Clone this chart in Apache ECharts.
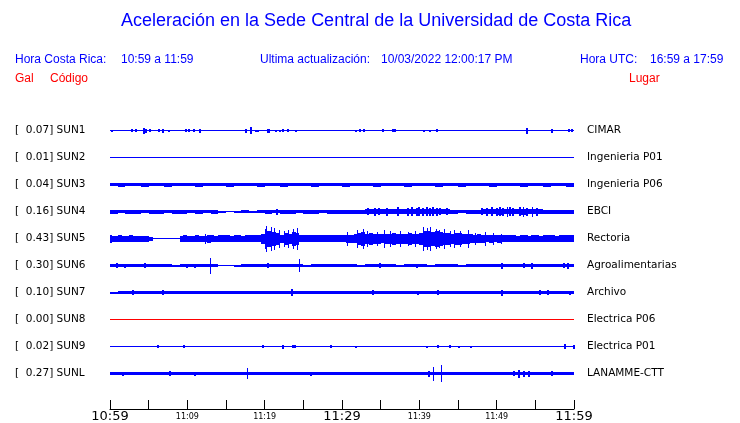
<!DOCTYPE html>
<html><head><meta charset="utf-8">
<script src="https://cdn.jsdelivr.net/npm/echarts@6/dist/echarts.min.js"></script>
<style>html,body{margin:0;padding:0;background:#fff}#c{width:740px;height:423px}</style>
</head><body><div id="c"></div>
<script>
// ---------- DATA ----------
const titleText = 'Aceleración en la Sede Central de la Universidad de Costa Rica';
const crLabel = 'Hora Costa Rica:', crTime = '10:59 a 11:59';
const updLabel = 'Ultima actualización:', updTime = '10/03/2022 12:00:17 PM';
const utcLabel = 'Hora UTC:', utcTime = '16:59 a 17:59';
const colHeads = ['Gal', 'Código', 'Lugar'];

const codes  = ['SUN1','SUN2','SUN3','SUN4','SUN5','SUN6','SUN7','SUN8','SUN9','SUNL'];
const gal    = ['0.07','0.01','0.04','0.16','0.43','0.30','0.10','0.00','0.02','0.27'];
const places = ['CIMAR','Ingenieria P01','Ingenieria P06','EBCI','Rectoria','Agroalimentarias','Archivo','Electrica P06','Electrica P01','LANAMME-CTT'];
const tickLabels = ['10:59','11:09','11:19','11:29','11:39','11:49','11:59']; // every 10 min
const spanMinutes = 60;

// envelope half-amplitudes (trace units, 27 units = one row), one value per time bin
const SUN1 = [0.5,0.5,0.5,0.5,0.5,0.5,0.5,0.5,0.5,0.5, 0.5,0.5,0.5,0.5,0.5,0.5,0.5,0.5,0.5,0.5, 0.5,0.5,0.5,0.5,0.5,0.5,0.5,0.5,0.5,0.5,
              0.5,0.5,0.5,0.5,0.5,0.5,0.5,0.5,0.5,0.5, 0.5,0.5,0.5,0.5,0.5,0.5,0.5,0.5,0.5,0.5, 0.5,0.5,0.5,0.5,0.5,0.5,0.5,0.5,0.5,0.5];
const SUN2 = [0.5,0.5,0.5,0.5,0.5,0.5,0.5,0.5,0.5,0.5, 0.5,0.5,0.5,0.5,0.5,0.5,0.5,0.5,0.5,0.5, 0.5,0.5,0.5,0.5,0.5,0.5,0.5,0.5,0.5,0.5,
              0.5,0.5,0.5,0.5,0.5,0.5,0.5,0.5,0.5,0.5, 0.5,0.5,0.5,0.5,0.5,0.5,0.5,0.5,0.5,0.5, 0.5,0.5,0.5,0.5,0.5,0.5,0.5,0.5,0.5,0.5];
const SUN3 = [1.5,2,1.5,1.5,2,1.5,1.5,2,1.5,1.5, 1.5,2,1.5,1.5,1.5,2,1.5,1.5,1.5,2, 1.5,1.5,2,1.5,1.5,1.5,2,1.5,1.5,1.5,
              2,1.5,1.5,1.5,2,1.5,1.5,1.5,2,1.5, 1.5,1.5,2,1.5,1.5,2,1.5,1.5,1.5,2, 1.5,1.5,1.5,2,1.5,1.5,2,1.5,1.5,2];
const SUN4 = [2,1.5,2,2,1.5,2,2,1.5,2,2, 1.5,2,1.5,2,1,0.5,1,1.5,1,1.5, 2,1.5,2,2,1.5,2,2,1.5,2,2,
              2,2,2,2.5,2.5,2.5,2.5,2.5,2.5,2.5, 2.5,2.5,2.5,2.5,2,1.5,2,2, 2.5,2.5,3,2.5,2.5,3,2.5,2.5, 2,2,2,2];
const SUN5 = [3,3,3.5,3,3,3.5,3,3,3,3,
              2,0.5,0.5,0.5,0.5,0.5,0.5,0.5,
              3,3.5,3,3,3.5,3,3,4,3.5,3,3.5,3.5,3.5,3,3.5,3.5,3,3.5,3.5,3.5,3.5,
              5,8,8,7,6,4,6,5,7,6,
              3.5,3.5,3.5,3.5,3.5,3.5,3.5,3.5,3.5,3.5,3.5,3.5,4,4,4.5,
              6,7,5,6,
              5,5,4.5,5,5,6,5,5,5,6,5,5,6,
              8,8,7,8,7,
              6,6,5,6,6,5,5,4.5,
              4,4.5,4,3.5,4,3.5,4,3.5,3.5,
              3.5,3.5,3,3.5,3.5,3,3.5,3.5,3,3.5,3.5,3.5,3,3.5,3.5,3.5,3.5];
const SUN6 = [1.5,1.5,1.5,1.5,1.5,1.5,1.5,1.5,1,1.5, 1.5,1.5,1.5,1.5,0.5,0.5,1,1.5,1.5,1.5, 1.5,1.5,1.5,1.5,1.5,1,1.5,1.5,1.5,1.5,
              1.5,1.5,1,1.5,1.5,1.5,1.5,1,1.5,1.5, 1.5,1,1.5,1.5,1.5,1,1.5,1.5,1.5,1.5, 1.5,1.5,1.5,1.5,1.5,1.5,1.5,1.5,1.5,1.5];
const SUN7 = [1,1.5,1.5,1.5,1.5,1.5,1.5,1.5,1.5,1.5, 1.5,1.5,1.5,1.5,1.5,1.5,1.5,1.5,1.5,1.5, 1.5,1.5,1.5,1.5,1.5,1.5,1.5,1.5,1.5,1.5,
              1.5,1.5,1.5,1.5,1.5,1.5,1.5,1.5,1.5,1.5, 1.5,1.5,1.5,1.5,1.5,1.5,1.5,1.5,1.5,1.5, 1.5,1.5,1.5,1.5,1.5,1.5,1.5,1.5,1.5,1.5];
const SUN8 = [0.5,0.5,0.5,0.5,0.5,0.5,0.5,0.5,0.5,0.5, 0.5,0.5,0.5,0.5,0.5,0.5,0.5,0.5,0.5,0.5, 0.5,0.5,0.5,0.5,0.5,0.5,0.5,0.5,0.5,0.5,
              0.5,0.5,0.5,0.5,0.5,0.5,0.5,0.5,0.5,0.5, 0.5,0.5,0.5,0.5,0.5,0.5,0.5,0.5,0.5,0.5, 0.5,0.5,0.5,0.5,0.5,0.5,0.5,0.5,0.5,0.5];
const SUN9 = [0.5,0.5,0.5,0.5,0.5,0.5,0.5,0.5,0.5,0.5, 0.5,0.5,0.5,0.5,0.5,0.5,0.5,0.5,0.5,0.5, 0.5,0.5,0.5,0.5,0.5,0.5,0.5,0.5,0.5,0.5,
              0.5,0.5,0.5,0.5,0.5,0.5,0.5,0.5,0.5,0.5, 0.5,0.5,0.5,0.5,0.5,0.5,0.5,0.5,0.5,0.5, 0.5,0.5,0.5,0.5,0.5,0.5,0.5,0.5,0.5,0.5];
const SUNL = [1.5,1.5,1.5,1.5,1.5,1.5,1.5,1.5,1.5,1.5, 1.5,1.5,1.5,1.5,1.5,1.5,1.5,1.5,1.5,1.5, 1.5,1.5,1.5,1.5,1.5,1.5,1.5,1.5,1.5,1.5,
              1.5,1.5,1.5,1.5,1.5,1.5,1.5,1.5,1.5,1.5, 1.5,1.5,1.5,1.5,1.5,1.5,1.5,1.5,1.5,1.5, 1.5,1.5,1.5,1.5,1.5,1.5,1.5,1.5,1.5,1.5];

// isolated peaks: [minute, half-amplitude]
const SUN1_peaks = [[0.26,1],[2.84,1.5],[3.36,1.5],[4.4,3],[4.6,2],[5.17,1.5],[6.34,1.5],[6.85,2],[7.63,1],[9.83,1.5],[10.2,1.5],[10.86,1.5],[11.64,2],
  [17.59,2],[18.23,3.5],[18.88,1],[19.14,1],[20.43,2],[20.6,2],[21.47,1],[21.98,1],[22.37,1.5],[23.02,1.5],[24.05,1],
  [31.81,1],[32.33,1.5],[32.85,1.5],[35.3,1.5],[36.6,1.5],[36.85,1.5],[40.6,1],[41.38,1],[42.29,1.5],[53.92,3],[57.16,2],[59.36,1.5],[59.75,1.5]];
const SUN2_peaks = [];
const SUN3_peaks = [];
const SUN4_peaks = [[21.6,3],[33.4,3.5],[34.3,4],[34.8,3.5],[35.8,4],[37.2,4.5],[38.5,4],[39.1,4.5],[39.7,4],[40.0,4.5],[40.5,4],[41.0,4.5],[41.4,4],[41.8,4.5],[42.3,4],[42.7,3.5],[43.6,3.5],
  [48.1,3.5],[48.7,4],[49.4,4.5],[50.0,4],[50.4,4.5],[50.8,4],[51.3,5],[51.7,4.5],[52.1,4],[53.0,4.5],[53.4,5],[53.9,4],[54.6,5],[55.2,4]];
const SUN5_peaks = [[0.1,4],[12.3,5],[20.0,10],[20.2,13],[20.8,12],[21.2,11],[21.8,9],[22.5,8],[23.0,9],[23.6,10],[24.2,11],[30.6,7],[32.0,9],[32.7,10],[33.2,8],
  [34.5,7],[35.4,9],[36.2,8],[37.5,8],[38.5,7],[39.5,8],[40.5,12],[41.0,11],[41.4,12],[42.1,10],[42.5,9],[43.2,10],[44.0,8],[44.5,9],[45.2,8],[46.3,9],[47.2,6],[48.5,7],[49.5,6],[50.5,5]];
const SUN6_peaks = [[0.9,2.5],[1.9,2],[4.5,2.5],[10,2],[11,2],[12.97,8],[20.4,2.5],[24.5,6.5],[34.9,2.5],[39.7,2],[50.7,3],[53.5,2.5],[54.6,3],[58.7,2.5],[59.2,3]];
const SUN7_peaks = [[3,2.5],[6.9,2.5],[23.5,3.5],[34,2.5],[39.8,2],[42.4,2.5],[50.7,3],[55.6,2.5],[56.6,2.5],[59.5,2]];
const SUN8_peaks = [];
const SUN9_peaks = [[6.2,1.5],[9.6,1.5],[19.8,1.5],[22.4,2],[23.7,1.5],[23.9,1.5],[28.6,1.5],[31.8,1],[41,1],[42.4,1.5],[44,1.5],[45.1,1],[46.7,1],[58.8,2.5],[59.95,2]];
const SUNL_peaks = [[1.7,2],[7.8,2.5],[11,2],[17.7,5.5],[26,2],[41.2,3],[41.8,7],[42.8,8.5],[52.3,2.5],[52.9,4],[53.5,3],[54.2,3],[57.2,2.5]];

const envelopes = [SUN1,SUN2,SUN3,SUN4,SUN5,SUN6,SUN7,SUN8,SUN9,SUNL];
const peaks = [SUN1_peaks,SUN2_peaks,SUN3_peaks,SUN4_peaks,SUN5_peaks,SUN6_peaks,SUN7_peaks,SUN8_peaks,SUN9_peaks,SUNL_peaks];
const UNITS_PER_ROW = 27;

// ---------- CHART ----------
const BLUE = '#0000ff', RED = '#ff0000';
const chart = echarts.init(document.getElementById('c'), null, {renderer: 'canvas'});

function vRange(api, t, row, a) {
  const top = api.coord([t, row - a / UNITS_PER_ROW])[1];
  const bot = api.coord([t, row + a / UNITS_PER_ROW])[1];
  let y0 = Math.round(top + 0.5), y1 = Math.round(bot + 0.5);
  if (y1 - y0 < 1) y1 = y0 + 1;
  return [y0, y1];
}
function renderBin(params, api) {
  const row = api.value(0), t0 = api.value(1), t1 = api.value(2), a = api.value(3);
  const x0 = Math.round(api.coord([t0, row])[0]);
  const x1 = Math.round(api.coord([t1, row])[0]);
  const [y0, y1] = vRange(api, t0, row, a);
  return {type: 'rect', shape: {x: x0, y: y0, width: Math.max(1, x1 - x0), height: y1 - y0},
          style: {fill: api.visual('color')}};
}
function renderPeak(params, api) {
  const row = api.value(0), t = api.value(1), a = api.value(2);
  const w = a >= 5 ? 1 : 2;
  const x = Math.round(api.coord([t, row])[0]) - (w === 2 ? 1 : 0);
  const [y0, y1] = vRange(api, t, row, a);
  return {type: 'rect', shape: {x: x, y: y0, width: w, height: y1 - y0},
          style: {fill: api.visual('color')}};
}

const series = [];
codes.forEach((code, i) => {
  const row = i + 1;
  const env = envelopes[i];
  const step = spanMinutes / env.length;
  const color = parseFloat(gal[i]) === 0 ? RED : BLUE;
  series.push({
    type: 'custom', name: code, renderItem: renderBin, itemStyle: {color},
    encode: {x: [1, 2], y: 0}, silent: true, animation: false,
    data: env.map((a, k) => [row, k * step, (k + 1) * step, a])
  });
  series.push({
    type: 'custom', name: code + ' peaks', renderItem: renderPeak, itemStyle: {color},
    encode: {x: 1, y: 0}, silent: true, animation: false,
    data: peaks[i].map(p => [row, p[0], p[1]])
  });
});

const labelFont = {fontFamily: 'DejaVu Sans', fontSize: 10.5, color: '#000'};

chart.setOption({
  animation: false,
  backgroundColor: '#fff',
  title: {
    text: titleText, left: 121, top: 12, padding: 0,
    textStyle: {fontFamily: 'Liberation Sans', fontSize: 18, fontWeight: 'normal', color: BLUE}
  },
  grid: {left: 110, right: 166, top: 103, height: 297},
  xAxis: {
    type: 'value', min: 0, max: spanMinutes, interval: 5, position: 'bottom', offset: 9,
    axisLine: {onZero: false, lineStyle: {color: '#000', width: 1}},
    axisTick: {inside: true, length: 9, lineStyle: {color: '#000'}},
    splitLine: {show: false},
    axisLabel: {
      margin: 0, showMinLabel: true, showMaxLabel: true, color: '#000',
      formatter: v => {
        if (v % 10 !== 0) return '';
        const lbl = tickLabels[v / 10];
        return v % 30 === 0 ? '{b|' + lbl + '}' : '{s|' + lbl + '}';
      },
      rich: {
        b: {fontFamily: 'DejaVu Sans', fontSize: 13, lineHeight: 15, verticalAlign: 'middle', color: '#000'},
        s: {fontFamily: 'DejaVu Sans', fontSize: 8, lineHeight: 15, verticalAlign: 'middle', color: '#000'}
      }
    }
  },
  yAxis: [{
    type: 'value', min: 0, max: codes.length + 1, interval: 1, inverse: true,
    axisLine: {show: false}, axisTick: {show: false}, splitLine: {show: false},
    axisLabel: Object.assign({
      align: 'left', margin: 95,
      formatter: v => (v >= 1 && v <= codes.length) ? '[  ' + gal[v - 1] + '] ' + codes[v - 1] : ''
    }, labelFont)
  }, {
    type: 'value', min: 0, max: codes.length + 1, interval: 1, inverse: true, position: 'right',
    axisLine: {show: false}, axisTick: {show: false}, splitLine: {show: false},
    axisLabel: Object.assign({
      align: 'left', margin: 13,
      formatter: v => (v >= 1 && v <= codes.length) ? places[v - 1] : ''
    }, labelFont)
  }],
  graphic: [
    {type: 'text', left: 15, top: 54, style: {text: crLabel, font: '12px "Liberation Sans"', fill: BLUE}},
    {type: 'text', left: 121, top: 54, style: {text: crTime, font: '12px "Liberation Sans"', fill: BLUE}},
    {type: 'text', left: 260, top: 54, style: {text: updLabel, font: '12px "Liberation Sans"', fill: BLUE}},
    {type: 'text', left: 381, top: 54, style: {text: updTime, font: '12px "Liberation Sans"', fill: BLUE}},
    {type: 'text', left: 580, top: 54, style: {text: utcLabel, font: '12px "Liberation Sans"', fill: BLUE}},
    {type: 'text', left: 650, top: 54, style: {text: utcTime, font: '12px "Liberation Sans"', fill: BLUE}},
    {type: 'text', left: 15, top: 73, style: {text: colHeads[0], font: '12px "Liberation Sans"', fill: RED}},
    {type: 'text', left: 50, top: 73, style: {text: colHeads[1], font: '12px "Liberation Sans"', fill: RED}},
    {type: 'text', left: 629, top: 73, style: {text: colHeads[2], font: '12px "Liberation Sans"', fill: RED}}
  ],
  series: series
});
</script>
</body></html>
